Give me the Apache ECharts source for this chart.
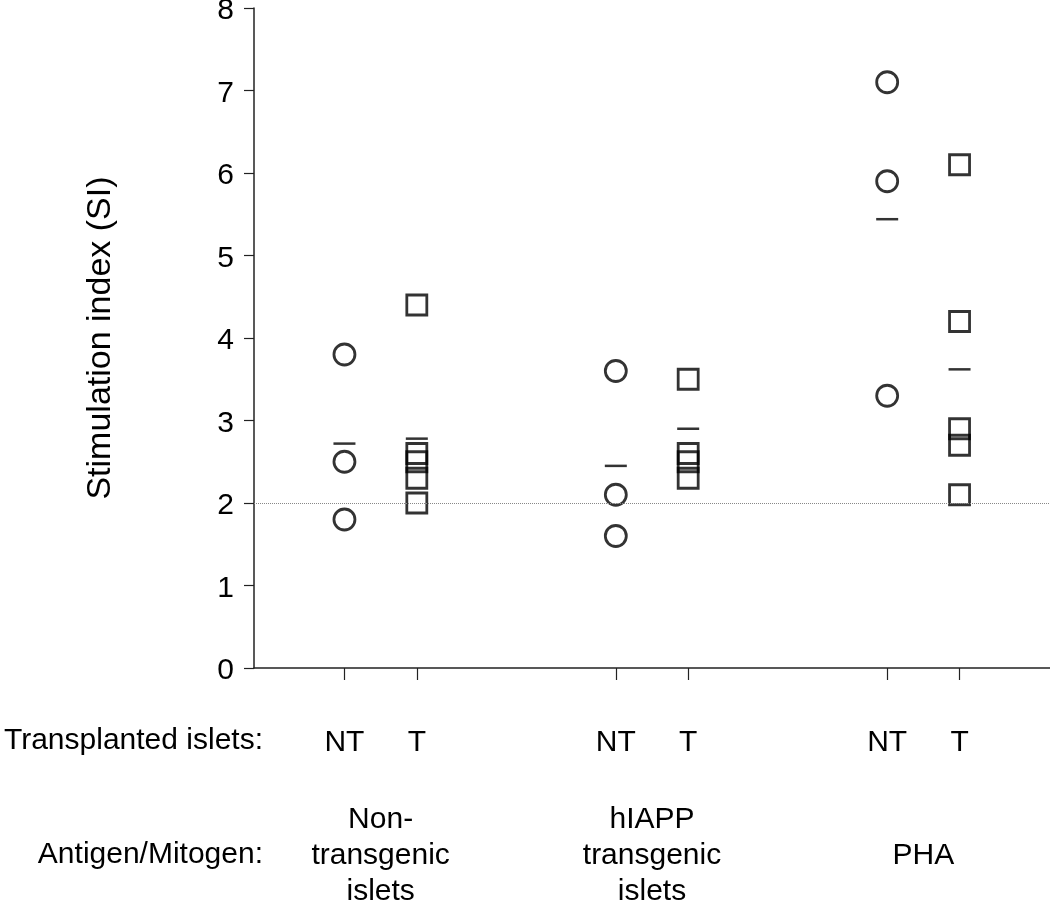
<!DOCTYPE html>
<html>
<head>
<meta charset="utf-8">
<script src="https://cdn.jsdelivr.net/npm/echarts@6/dist/echarts.min.js"></script>
<style>html,body{margin:0;padding:0;background:#fff;}#chart{width:1050px;height:903px;}</style>
</head>
<body>
<div id="chart"></div>
<script>
// ---- data ----
const groups = ['Non-\ntransgenic\nislets', 'hIAPP\ntransgenic\nislets', 'PHA'];
const subgroups = ['NT', 'T'];
const ntValues = [[3.8, 2.5, 1.8], [3.6, 2.1, 1.6], [7.1, 5.9, 3.3]];
const tValues = [[4.4, 2.6, 2.5, 2.3, 2.0], [3.5, 2.6, 2.5, 2.3], [6.1, 4.2, 2.9, 2.7, 2.1]];
const ntMeans = [2.72, 2.45, 5.44];
const tMeans = [2.78, 2.9, 3.62];
const threshold = 2;
const yTicks = [0, 1, 2, 3, 4, 5, 6, 7, 8];
const rowTitles = ['Transplanted islets:', 'Antigen/Mitogen:'];

// ---- layout helpers ----
const groupCenter = g => 1.75 + 3.75 * g;
const subPos = (g, s) => groupCenter(g) + (s === 0 ? -0.5 : 0.5);
const tickPos = [];
const tickName = {};
groups.forEach((_, g) => subgroups.forEach((name, s) => { const p = subPos(g, s); tickPos.push(p); tickName[p] = name; }));
const centers = groups.map((_, g) => groupCenter(g));
const groupName = {};
centers.forEach((c, g) => groupName[c] = groups[g]);

const pts = (vals, s) => vals.flatMap((arr, g) => arr.map(v => [subPos(g, s), v]));
const meanPts = (means, s) => means.map((m, g) => [subPos(g, s), m]);

const FONT = 'Liberation Sans, Arial, sans-serif';
const FS = 30;
const chart = echarts.init(document.getElementById('chart'));
chart.setOption({
  animation: false,
  backgroundColor: '#fff',
  grid: { left: 254, right: 0, top: 8, bottom: 235, containLabel: false, outerBoundsMode: 'none' },
  xAxis: [{
    type: 'value', min: 0, max: 11,
    axisLine: { show: true, lineStyle: { color: '#222', width: 1.5 } },
    axisTick: { show: true, customValues: tickPos, length: 12, lineStyle: { color: '#222', width: 1.2 } },
    axisLabel: { customValues: tickPos, formatter: v => tickName[v] || '', margin: 75, verticalAlign: 'middle',
      fontSize: FS, color: '#000', fontFamily: FONT },
    splitLine: { show: false }
  }, {
    type: 'value', min: 0, max: 11, position: 'bottom',
    axisLine: { show: false }, axisTick: { show: false }, splitLine: { show: false },
    axisLabel: { customValues: centers, formatter: v => groupName[v] || '', margin: 188, verticalAlign: 'middle',
      fontSize: FS, lineHeight: 36, color: '#000', fontFamily: FONT, align: 'center' }
  }],
  yAxis: {
    type: 'value', min: 0, max: 8, interval: 1,
    name: 'Stimulation index (SI)', nameLocation: 'middle', nameGap: 136,
    nameTextStyle: { fontSize: 34, color: '#000', fontFamily: FONT },
    axisLine: { show: true, lineStyle: { color: '#222', width: 1.5 } },
    axisTick: { show: true, length: 10, lineStyle: { color: '#222', width: 1.2 } },
    axisLabel: { margin: 20, verticalAlign: 'top', lineHeight: 6, fontSize: FS, color: '#000', fontFamily: FONT,
      formatter: v => yTicks.includes(v) ? String(v) : '' },
    splitLine: { show: false }
  },
  graphic: rowTitles.map((t, i) => ({
    type: 'text', x: 263, y: i === 0 ? 741 : 855,
    style: { text: t, fontSize: FS, fill: '#000', fontFamily: FONT, align: 'right', verticalAlign: 'middle' }
  })),
  series: [
    {
      type: 'scatter', data: pts(ntValues, 0), symbol: 'circle', symbolSize: 21,
      itemStyle: { color: 'rgba(0,0,0,0)', borderColor: '#000', borderWidth: 2.8 },
      markLine: { silent: true, symbol: 'none', label: { show: false },
        lineStyle: { type: 'dotted', color: '#888', width: 1 }, data: [{ yAxis: threshold }] },
      z: 3
    },
    {
      type: 'scatter', data: pts(tValues, 1), symbol: 'rect', symbolSize: 20,
      itemStyle: { color: 'rgba(0,0,0,0)', borderColor: '#000', borderWidth: 2.8 }, z: 3
    },
    {
      type: 'scatter', data: meanPts(ntMeans, 0).concat(meanPts(tMeans, 1)), symbol: 'rect', symbolSize: [22, 2.5],
      itemStyle: { color: '#000' }, z: 4
    }
  ]
});
</script>
</body>
</html>
